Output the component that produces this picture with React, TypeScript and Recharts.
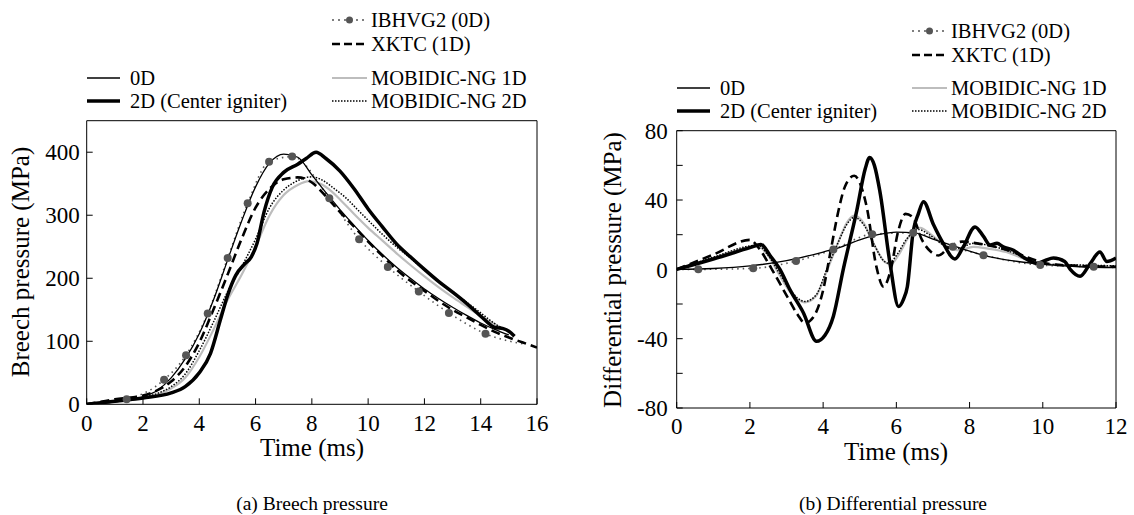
import React from "react";
import { LineChart, Line, XAxis, YAxis } from "recharts";

type Pt = [number, number];

const FONT = "'Liberation Serif', 'Times New Roman', serif";

// (a) breech pressure: [time ms, pressure MPa]
const breech0D: Pt[] = [
  [0, 0], [1, 4], [2, 12], [2.5, 22], [3, 42], [3.5, 72], [4, 112], [4.5, 165], [5, 228], [5.5, 290],
  [6, 345], [6.5, 383], [7, 397], [7.5, 392], [8, 364], [8.5, 336], [9, 309], [9.5, 284], [10, 260],
  [10.5, 238], [11, 218], [11.5, 200], [12, 183], [12.5, 168], [13, 154], [13.5, 141], [14, 129],
  [14.5, 119], [15, 110],
];
const breech2D: Pt[] = [
  [0, 0], [1, 5], [2, 10], [3, 18], [3.5, 28], [4, 50], [4.4, 81], [4.75, 134], [5, 172], [5.3, 205],
  [5.6, 222], [5.85, 234], [6.05, 255], [6.3, 305], [6.6, 345], [7, 368], [7.5, 381], [7.8, 390],
  [8.15, 400], [8.5, 390], [9, 370], [9.5, 342], [10, 310], [10.5, 282], [11, 255], [11.5, 234],
  [12, 214], [12.5, 195], [13, 178], [13.5, 160], [14, 140], [14.5, 122], [14.8, 120], [15, 116], [15.2, 108],
];
const breechIBHVG2: Pt[] = [
  [0, 0], [1.42, 8], [2.75, 39], [3.53, 78], [4.3, 144], [5.01, 232], [5.72, 319], [6.48, 385],
  [7.3, 393], [8.62, 327], [9.68, 262], [10.7, 218], [11.8, 179], [12.87, 145], [14.17, 112], [15.6, 95],
];
const breechXKTC: Pt[] = [
  [0, 0], [0.5, 4], [1, 8], [2, 14], [2.5, 22], [3, 36], [3.5, 60], [4, 98], [4.5, 150], [5, 205],
  [5.5, 262], [6, 312], [6.5, 342], [7, 357], [7.5, 360], [8, 352], [8.5, 330], [9, 305], [9.5, 282],
  [10, 258], [10.5, 236], [11, 214], [11.5, 196], [12, 180], [12.5, 164], [13, 150], [13.5, 138],
  [14, 126], [14.5, 115], [15, 106], [15.5, 98], [16, 90],
];
const breechMob1D: Pt[] = [
  [0, 0], [1, 4], [2, 10], [2.5, 15], [3, 25], [3.5, 42], [4, 75], [4.5, 118], [5, 165], [5.5, 205],
  [6, 250], [6.5, 300], [7, 332], [7.5, 348], [7.9, 354], [8.3, 350], [8.7, 338], [9, 325], [9.5, 302],
  [10, 280], [10.5, 260], [11, 240], [11.5, 221], [12, 203], [12.5, 186], [13, 170], [13.5, 155],
  [14, 140], [14.5, 127], [15, 115],
];
const breechMob2D: Pt[] = [
  [0, 0], [1, 5], [2, 11], [2.5, 17], [3, 28], [3.5, 48], [4, 85], [4.5, 130], [5, 178], [5.5, 218],
  [6, 262], [6.5, 312], [7, 340], [7.5, 355], [8, 361], [8.4, 355], [8.8, 342], [9.2, 328], [9.6, 310],
  [10, 292], [10.5, 270], [11, 250], [11.5, 232], [12, 213], [12.5, 195], [13, 178], [13.5, 162],
  [14, 145], [14.5, 128], [15, 116],
];

// (b) differential pressure: [time ms, pressure MPa]
const diff0D: Pt[] = [
  [0, 0], [1, 0.5], [2, 2], [3, 5], [4, 10], [4.5, 13], [5, 17], [5.5, 20], [6, 21.5], [6.5, 21],
  [7, 17.5], [7.5, 14], [8, 10.5], [8.5, 7.5], [9, 5.5], [10, 3], [11, 1.5], [12, 1],
];
const diff2D: Pt[] = [
  [0, 0], [1, 6], [2, 12.5], [2.3, 14.4], [2.55, 8], [2.82, 0], [3.1, -12], [3.46, -25], [3.82, -41.5],
  [4.05, -38], [4.28, -27], [4.55, 0], [4.92, 34], [5.15, 58], [5.27, 64.5], [5.4, 60], [5.55, 45],
  [5.83, 3], [6.06, -21.5], [6.2, -17], [6.3, -10], [6.46, 22], [6.6, 32], [6.74, 39], [7.01, 26],
  [7.28, 15], [7.6, 6], [7.83, 13], [8.15, 24.5], [8.38, 19], [8.56, 14], [8.75, 15], [8.92, 13],
  [9.2, 11], [9.47, 7], [9.83, 3.5], [10.05, 5], [10.29, 6.5], [10.6, 4.5], [10.75, 0], [11.02, -4],
  [11.3, 3.5], [11.56, 10], [11.75, 4.5], [12, 6.5],
];
const diffIBHVG2: Pt[] = [
  [0, 0], [0.59, 0], [2.09, 0.6], [3.26, 4.8], [4.28, 11.5], [5.34, 20.3], [6.46, 21.1], [7.54, 13],
  [8.38, 8.2], [9.93, 2.5], [11.39, 1.5], [12, 1],
];
const diffXKTC: Pt[] = [
  [0, 0], [1, 8.5], [2, 17], [2.25, 12], [2.6, 0], [3, -15], [3.3, -26], [3.5, -31], [3.75, -27],
  [4, -12], [4.2, 10], [4.4, 32], [4.6, 48], [4.85, 54], [5, 50], [5.2, 35], [5.45, 2], [5.65, -10],
  [5.85, 0], [6.05, 22], [6.25, 32], [6.45, 30], [6.7, 17], [6.95, 10], [7.15, 8], [7.45, 13],
  [7.8, 16], [8.2, 15], [8.7, 13], [9.2, 10], [9.7, 6], [10.2, 3], [11, 2], [12, 1.5],
];
const diffMob1D: Pt[] = [
  [0, 0], [1, 6.5], [2, 13], [2.2, 13.5], [2.5, 8], [2.8, -3], [3.1, -13], [3.5, -19], [3.8, -15.5],
  [4.1, -1], [4.4, 15], [4.65, 27], [4.85, 31], [5.1, 27], [5.4, 14], [5.7, 4], [5.85, 3], [6.05, 8],
  [6.35, 19], [6.65, 24], [6.95, 20], [7.3, 14], [7.7, 11], [8.1, 13], [8.5, 12], [9, 10], [9.5, 6],
  [10, 3], [11, 2], [12, 1.5],
];
const diffMob2D: Pt[] = [
  [0, 0], [1, 7], [2, 13.5], [2.2, 14], [2.5, 8], [2.8, -2], [3.1, -12], [3.5, -18.5], [3.8, -15],
  [4.1, 0], [4.4, 15], [4.65, 26], [4.85, 30], [5.1, 26], [5.4, 14], [5.65, 5], [5.8, 3.5], [6, 8],
  [6.3, 18], [6.6, 23], [6.9, 20], [7.3, 14], [7.7, 12], [8.1, 15], [8.5, 14], [9, 11], [9.5, 7],
  [10, 3], [11, 2.5], [12, 2],
];

const breechTimeTicks = [0, 2, 4, 6, 8, 10, 12, 14, 16];
const breechPressureTicks = [0, 100, 200, 300, 400];
const diffTimeTicks = [0, 2, 4, 6, 8, 10, 12];
const diffPressureTicks = [-80, -60, -40, -20, 0, 20, 40, 60, 80];
const diffPressureLabels = [-80, -40, 0, 40, 80];

const seriesNames = ["0D", "2D (Center igniter)", "IBHVG2 (0D)", "XKTC (1D)", "MOBIDIC-NG 1D", "MOBIDIC-NG 2D"];

type Kind = "zeroD" | "twoD" | "ibhvg2" | "xktc" | "mob1d" | "mob2d";

const lineStyle: Record<Kind, { stroke: string; strokeWidth: number; strokeDasharray?: string }> = {
  zeroD: { stroke: "#000", strokeWidth: 1.3 },
  twoD: { stroke: "#000", strokeWidth: 3.5 },
  ibhvg2: { stroke: "#555", strokeWidth: 1.6, strokeDasharray: "1.5 4" },
  xktc: { stroke: "#000", strokeWidth: 2.6, strokeDasharray: "9 5" },
  mob1d: { stroke: "#bdbdbd", strokeWidth: 2.2 },
  mob2d: { stroke: "#000", strokeWidth: 1.5, strokeDasharray: "1.5 1.5" },
};

const toRows = (pts: Pt[]) => pts.map(([t, p]) => ({ t, p }));

const markerDot = (n: number) => (props: any) => {
  const { cx, cy, index } = props;
  if (index === 0 || index === n - 1) return <g key={`d${index}`} />;
  return <circle key={`d${index}`} cx={cx} cy={cy} r={4} fill="#555" stroke="none" />;
};

interface PanelProps {
  left: number;
  plot: { x0: number; x1: number; y0: number; y1: number };
  xDomain: [number, number];
  yDomain: [number, number];
  xTicks: number[];
  yTicks: number[];
  yLabelMargin: number;
  yFormat?: (v: number) => string;
  series: { kind: Kind; pts: Pt[] }[];
}

function Panel({ left, plot, xDomain, yDomain, xTicks, yTicks, yLabelMargin, yFormat, series }: PanelProps) {
  const W = 567;
  const H = 515;
  const margin = {
    left: plot.x0 - left - 50,
    right: left + W - plot.x1 - 1,
    top: plot.y0 - 1,
    bottom: H - plot.y1 - 30,
  };
  const tickFont = { fill: "#000", fontSize: 23, fontFamily: FONT };
  return (
    <div style={{ position: "absolute", left, top: 0 }}>
      <LineChart width={W} height={H} margin={margin}>
        <XAxis
          type="number"
          dataKey="t"
          domain={xDomain}
          ticks={xTicks}
          interval={0}
          allowDataOverflow
          tickSize={-6}
          tickMargin={16}
          height={30}
          stroke="#000"
          tick={tickFont}
        />
        <XAxis
          xAxisId="top"
          orientation="top"
          type="number"
          dataKey="t"
          domain={xDomain}
          ticks={xTicks}
          interval={0}
          allowDataOverflow
          tickSize={-6}
          tick={false}
          height={1}
          stroke="#000"
        />
        <YAxis
          type="number"
          domain={yDomain}
          ticks={yTicks}
          interval={0}
          allowDataOverflow
          tickSize={-6}
          tickMargin={yLabelMargin}
          width={50}
          stroke="#000"
          tick={tickFont}
          tickFormatter={yFormat}
        />
        <YAxis
          yAxisId="right"
          orientation="right"
          type="number"
          domain={yDomain}
          ticks={yTicks}
          interval={0}
          allowDataOverflow
          tickSize={-6}
          tick={false}
          width={1}
          stroke="#000"
        />
        {series.map((s, i) => (
          <Line
            key={i}
            data={toRows(s.pts)}
            dataKey="p"
            type="monotone"
            {...lineStyle[s.kind]}
            dot={s.kind === "ibhvg2" ? markerDot(s.pts.length) : false}
            activeDot={false}
            isAnimationActive={false}
          />
        ))}
      </LineChart>
    </div>
  );
}

function LegendSymbol({ kind, x0, x1, y }: { kind: Kind; x0: number; x1: number; y: number }) {
  const st = lineStyle[kind];
  const dash = kind === "ibhvg2" ? "2 4" : kind === "xktc" ? "8 4" : kind === "mob2d" ? "1.5 1.5" : undefined;
  return (
    <g>
      <line x1={x0} x2={x1} y1={y} y2={y} stroke={st.stroke} strokeWidth={st.strokeWidth} strokeDasharray={dash} />
      {kind === "ibhvg2" && <circle cx={(x0 + x1) / 2} cy={y} r={3.5} fill="#555" />}
    </g>
  );
}

function LegendBlock({ ax, bx, rows }: { ax: number; bx: number; rows: number[] }) {
  const a: { kind: Kind; name: string; y: number }[] = [
    { kind: "zeroD", name: seriesNames[0], y: rows[2] },
    { kind: "twoD", name: seriesNames[1], y: rows[3] },
  ];
  const b: { kind: Kind; name: string; y: number }[] = [
    { kind: "ibhvg2", name: seriesNames[2], y: rows[0] },
    { kind: "xktc", name: seriesNames[3], y: rows[1] },
    { kind: "mob1d", name: seriesNames[4], y: rows[2] },
    { kind: "mob2d", name: seriesNames[5], y: rows[3] },
  ];
  return (
    <g fontFamily={FONT} fontSize={20.5} fill="#000">
      {a.map((r) => (
        <g key={r.name}>
          <LegendSymbol kind={r.kind} x0={ax} x1={ax + 33} y={r.y} />
          <text x={ax + 43} y={r.y} dominantBaseline="central">{r.name}</text>
        </g>
      ))}
      {b.map((r) => (
        <g key={r.name}>
          <LegendSymbol kind={r.kind} x0={bx} x1={bx + 35} y={r.y} />
          <text x={bx + 39} y={r.y} dominantBaseline="central">{r.name}</text>
        </g>
      ))}
    </g>
  );
}

export default function App() {
  return (
    <div style={{ position: "fixed", left: 0, top: 0, width: 1134, height: 515, background: "#fff" }}>
      <Panel
        left={0}
        plot={{ x0: 86.7, x1: 537, y0: 120.7, y1: 404.3 }}
        xDomain={[0, 16]}
        yDomain={[0, 450]}
        xTicks={breechTimeTicks}
        yTicks={breechPressureTicks}
        yLabelMargin={13}
        series={[
          { kind: "mob1d", pts: breechMob1D },
          { kind: "ibhvg2", pts: breechIBHVG2 },
          { kind: "mob2d", pts: breechMob2D },
          { kind: "xktc", pts: breechXKTC },
          { kind: "zeroD", pts: breech0D },
          { kind: "twoD", pts: breech2D },
        ]}
      />
      <Panel
        left={567}
        plot={{ x0: 676.7, x1: 1116, y0: 130.7, y1: 408 }}
        xDomain={[0, 12]}
        yDomain={[-80, 80]}
        xTicks={diffTimeTicks}
        yTicks={diffPressureTicks}
        yLabelMargin={15}
        yFormat={(v: number) => (diffPressureLabels.includes(v) ? String(v) : "")}
        series={[
          { kind: "mob1d", pts: diffMob1D },
          { kind: "ibhvg2", pts: diffIBHVG2 },
          { kind: "mob2d", pts: diffMob2D },
          { kind: "xktc", pts: diffXKTC },
          { kind: "zeroD", pts: diff0D },
          { kind: "twoD", pts: diff2D },
        ]}
      />
      <svg width={1134} height={515} style={{ position: "absolute", left: 0, top: 0, pointerEvents: "none" }}>
        <LegendBlock ax={87} bx={332} rows={[20, 44, 78, 101]} />
        <LegendBlock ax={677} bx={912} rows={[31, 55, 88, 111]} />
        <g fontFamily={FONT} fill="#000" textAnchor="middle">
          <text x={20} y={262} fontSize={25} dominantBaseline="central" transform="rotate(-90 20 262)">
            Breech pressure (MPa)
          </text>
          <text x={612} y={270} fontSize={25} dominantBaseline="central" transform="rotate(-90 612 270)">
            Differential pressure (MPa)
          </text>
          <text x={312} y={447} fontSize={25} dominantBaseline="central">Time (ms)</text>
          <text x={896} y={451} fontSize={25} dominantBaseline="central">Time (ms)</text>
          <text x={312} y={503} fontSize={19.5} dominantBaseline="central">(a) Breech pressure</text>
          <text x={893} y={503} fontSize={19.5} dominantBaseline="central">(b) Differential pressure</text>
        </g>
      </svg>
    </div>
  );
}
